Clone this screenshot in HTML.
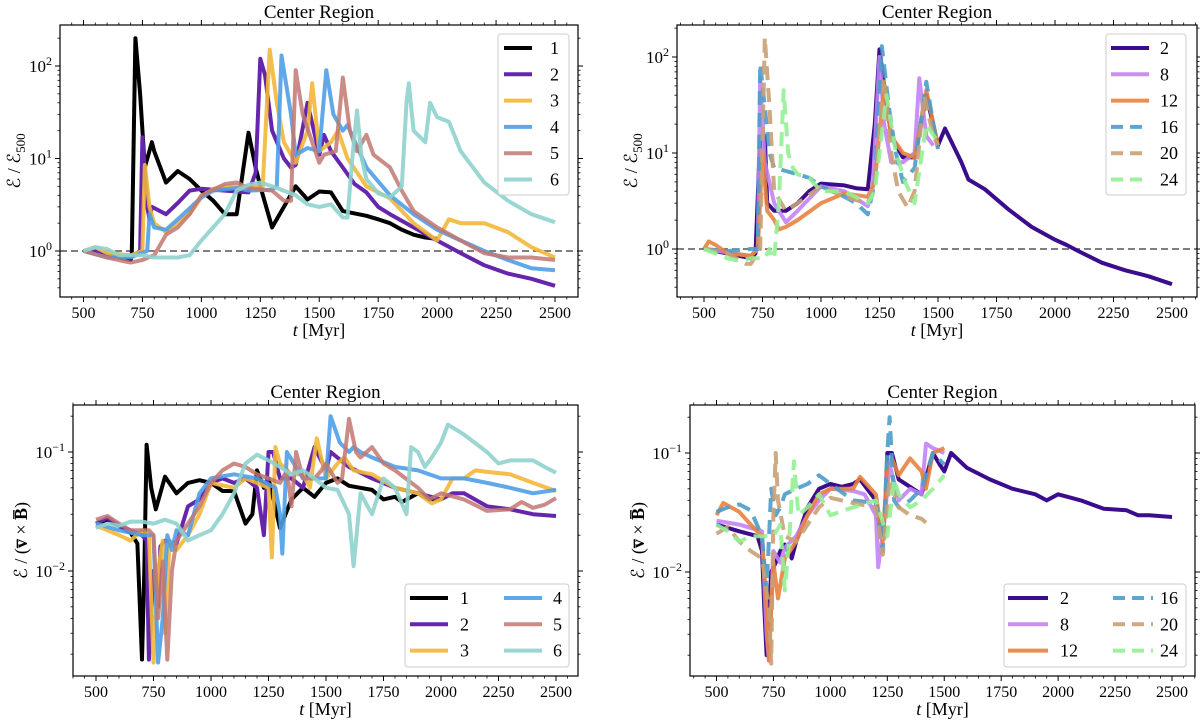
<!DOCTYPE html>
<html><head><meta charset="utf-8"><style>
html,body{margin:0;padding:0;background:#fff}
svg{display:block;font-family:"Liberation Serif",serif}
</style></head><body>
<svg id="fig" width="1200" height="726" viewBox="0 0 1200 726" xmlns="http://www.w3.org/2000/svg"></svg>
<script>
// ---------- DATA ----------
// Top-left (E/E500, runs 1-6)
const tl_t1=[500,550,600,650,700,705,720,740,760,790,800,850,900,950,1000,1050,1100,1150,1200,1230,1250,1300,1350,1400,1450,1500,1550,1600,1700,1750,1800,1850,1900,1950,2000];
const tl_v1=[1,1,0.9,0.85,0.8,0.95,200,50,8,15,12,5.5,7.3,6,4.5,3.5,2.5,2.5,19,8,5,1.8,3,5,3.6,4.4,4.3,2.7,2.4,2.2,2.0,1.7,1.5,1.4,1.35];
const tl_t2=[500,550,600,700,740,750,770,780,790,850,900,950,1000,1100,1200,1230,1250,1270,1300,1350,1380,1400,1450,1500,1520,1550,1600,1650,1700,1750,1800,1900,2000,2100,2200,2300,2400,2500];
const tl_v2=[1,1,0.9,0.85,1,17,3,2.2,3,2.5,3.3,4.5,4.7,4.5,4.3,7,120,80,20,10,8,8.5,40,11,18,12,8,5.3,4.3,3,2.5,1.8,1.3,0.95,0.7,0.57,0.5,0.42];
const tl_t3=[500,550,600,700,750,760,780,800,850,900,950,1000,1050,1100,1200,1260,1290,1320,1350,1400,1450,1470,1500,1550,1580,1620,1700,1800,1900,2000,2050,2100,2200,2300,2400,2500];
const tl_v3=[1,1.1,0.95,0.9,1,8.5,3,2,1.6,2,2.5,3.8,4.7,5,5,5,150,40,15,9,20,65,12,15,20,10,5,3.7,2,1.3,2.2,2,2,1.6,1.1,0.85];
const tl_t4=[500,600,700,770,780,800,850,900,1000,1050,1150,1200,1300,1320,1340,1380,1400,1450,1500,1530,1560,1600,1620,1700,1800,1900,2000,2100,2200,2300,2400,2500];
const tl_v4=[1,0.85,0.85,1,2.5,1.8,1.7,2.2,3.8,4.5,4.8,4.5,4.6,5,130,30,11,13,12,90,30,20,23,8,4,2.5,1.7,1.3,1,0.8,0.65,0.62];
const tl_t5=[500,600,700,750,800,850,900,950,1000,1100,1150,1200,1300,1350,1380,1400,1430,1470,1500,1520,1570,1600,1630,1660,1700,1730,1800,1850,1900,2000,2100,2200,2300,2400,2500];
const tl_v5=[1,0.85,0.75,0.8,0.9,1.5,1.8,2.5,4,5.3,5.5,4.8,4.5,3.5,3.5,90,30,15,9,11,12,75,20,12,18,11,8,4.5,2.7,1.8,1.3,0.95,0.85,0.85,0.8];
const tl_t6=[500,550,600,650,700,750,800,900,950,1000,1100,1150,1200,1250,1300,1400,1450,1500,1550,1600,1620,1640,1660,1680,1700,1750,1800,1850,1870,1880,1900,1950,1970,2000,2050,2100,2200,2300,2400,2500];
const tl_v6=[1,1.1,1.05,0.9,0.9,0.9,0.85,0.85,0.9,1.3,2.5,4.5,5.2,5.5,5,4,3.2,3,3.2,2.3,2.3,10,33,10,6,4.2,3.8,5,40,65,20,15,40,28,25,12,5.5,3.5,2.5,2.05];
// Top-right (E/E500, resolutions)
const tr_t2=[500,600,700,720,740,760,770,800,850,900,950,1000,1050,1100,1150,1200,1230,1250,1270,1300,1350,1400,1450,1500,1530,1600,1630,1700,1800,1900,2000,2050,2100,2200,2300,2400,2500];
const tr_v2=[1,0.9,0.8,0.9,15,15,3,2.5,2.5,3,4,4.8,4.7,4.6,4.3,4.2,20,120,50,15,9,9,40,12,18,8,5.3,4.2,2.6,1.7,1.25,1.1,0.95,0.72,0.6,0.52,0.43];
const tr_t8=[500,700,730,740,760,800,850,900,1000,1100,1200,1220,1250,1270,1300,1350,1400,1420,1450,1480];
const tr_v8=[1,0.85,1,60,8,3,1.9,2.5,4.5,4,2.8,4,100,20,8,8,10,60,15,12];
const tr_t12=[500,520,550,600,700,730,750,770,800,820,850,900,1000,1100,1200,1230,1270,1300,1350,1400,1450,1500];
const tr_v12=[1,1.2,1.1,0.9,0.85,1,10,2.5,2,1.6,1.7,2,3,3.8,3.5,5,50,15,10,9,45,12];
const tr_t16=[500,600,700,730,740,760,780,800,850,900,950,1000,1100,1150,1200,1230,1260,1290,1320,1350,1400,1450,1480,1500];
const tr_v16=[1,0.95,1,1,85,30,10,7,6.5,6,5.5,4.5,3.5,3,2.3,5,130,30,10,5,7,55,20,11];
const tr_t20=[500,600,680,700,740,760,780,800,850,900,1000,1100,1200,1230,1270,1300,1330,1370,1400,1440,1480,1500];
const tr_v20=[1,0.9,0.7,0.7,1,160,30,4,2.5,3,4.5,3.5,3,5,60,10,4,2.7,4,40,15,12];
const tr_t24=[500,600,650,700,760,780,790,800,820,840,860,880,900,950,1000,1100,1200,1230,1280,1320,1360,1400,1450,1500];
const tr_v24=[1,0.8,0.75,0.8,0.8,1,0.8,0.8,3,45,10,7,6,5.5,4,4,3,4,40,10,5,3,20,13];
// Bottom-left (E/(v x B), runs 1-6)
const bl_t1=[500,550,600,650,680,700,710,720,740,760,800,850,900,950,1000,1050,1100,1150,1180,1200,1230,1250,1300,1350,1400,1450,1500,1550,1600,1700,1750,1800,1830,1900,1950,2000];
const bl_v1=[0.025,0.027,0.024,0.021,0.017,0.0018,0.01,0.115,0.05,0.033,0.062,0.045,0.055,0.058,0.055,0.047,0.047,0.025,0.03,0.07,0.05,0.06,0.023,0.04,0.05,0.042,0.055,0.06,0.052,0.048,0.04,0.042,0.038,0.045,0.04,0.04];
const bl_t2=[500,550,600,650,700,720,730,750,770,780,800,850,900,950,1000,1050,1100,1150,1200,1230,1250,1270,1300,1350,1400,1450,1500,1520,1600,1700,1800,1900,2000,2050,2100,2200,2300,2400,2500];
const bl_v2=[0.025,0.028,0.024,0.022,0.02,0.018,0.0018,0.01,0.005,0.016,0.018,0.017,0.035,0.04,0.055,0.06,0.055,0.06,0.05,0.02,0.1,0.1,0.06,0.06,0.05,0.11,0.07,0.1,0.075,0.06,0.05,0.045,0.04,0.045,0.045,0.035,0.033,0.03,0.029];
const bl_t3=[500,550,600,650,700,730,750,770,790,800,820,850,900,950,1000,1100,1150,1200,1250,1265,1280,1300,1350,1400,1430,1460,1500,1550,1580,1620,1700,1800,1900,1960,2000,2050,2100,2150,2200,2300,2400,2500];
const bl_v3=[0.024,0.022,0.02,0.018,0.022,0.02,0.0017,0.01,0.018,0.003,0.018,0.015,0.02,0.03,0.055,0.05,0.06,0.055,0.05,0.013,0.11,0.08,0.065,0.065,0.05,0.13,0.06,0.08,0.09,0.07,0.065,0.05,0.045,0.037,0.04,0.06,0.06,0.07,0.068,0.065,0.055,0.047];
const bl_t4=[500,600,700,750,770,790,810,830,850,900,950,1000,1100,1200,1280,1300,1310,1330,1400,1450,1500,1520,1560,1600,1620,1650,1700,1800,1900,2000,2100,2200,2300,2400,2500];
const bl_v4=[0.025,0.022,0.02,0.02,0.0017,0.004,0.02,0.015,0.022,0.02,0.045,0.06,0.065,0.06,0.05,0.03,0.014,0.1,0.06,0.06,0.06,0.2,0.12,0.1,0.11,0.1,0.09,0.075,0.07,0.06,0.06,0.055,0.05,0.045,0.048];
const bl_t5=[500,550,600,650,700,730,750,770,790,810,830,850,900,950,1000,1050,1100,1150,1200,1250,1300,1330,1350,1370,1400,1450,1480,1500,1550,1570,1600,1630,1650,1700,1750,1800,1900,1950,2000,2100,2200,2300,2350,2400,2450,2500];
const bl_v5=[0.027,0.029,0.025,0.022,0.022,0.022,0.02,0.004,0.012,0.0018,0.01,0.018,0.025,0.035,0.055,0.07,0.08,0.075,0.065,0.06,0.055,0.07,0.035,0.1,0.06,0.06,0.07,0.08,0.055,0.06,0.19,0.1,0.09,0.11,0.08,0.07,0.05,0.04,0.045,0.04,0.032,0.033,0.038,0.034,0.036,0.041];
const bl_t6=[500,550,600,650,700,750,800,850,900,950,1000,1050,1100,1150,1200,1250,1300,1350,1400,1450,1500,1550,1600,1620,1650,1700,1750,1800,1850,1870,1900,1930,1960,2000,2030,2100,2200,2250,2300,2400,2450,2500];
const bl_v6=[0.023,0.025,0.024,0.026,0.026,0.025,0.027,0.025,0.018,0.02,0.022,0.03,0.045,0.08,0.095,0.085,0.075,0.065,0.07,0.06,0.05,0.048,0.03,0.011,0.045,0.03,0.06,0.05,0.03,0.11,0.1,0.075,0.09,0.12,0.17,0.14,0.1,0.08,0.085,0.085,0.075,0.067];
// Bottom-right (E/(v x B), resolutions)
const br_t2=[500,600,680,700,710,720,740,760,780,800,830,850,900,950,1000,1050,1100,1130,1200,1220,1240,1250,1270,1300,1400,1450,1480,1500,1530,1600,1700,1800,1900,1950,2000,2100,2200,2300,2350,2400,2500];
const br_v2=[0.025,0.022,0.02,0.015,0.005,0.002,0.01,0.012,0.015,0.017,0.013,0.018,0.035,0.05,0.055,0.052,0.055,0.06,0.04,0.02,0.03,0.1,0.1,0.06,0.045,0.1,0.08,0.07,0.1,0.075,0.06,0.05,0.045,0.04,0.045,0.04,0.034,0.033,0.03,0.03,0.029];
const br_t8=[500,600,700,720,730,750,780,800,850,900,950,1000,1100,1150,1200,1210,1240,1260,1300,1350,1400,1420,1450,1500];
const br_v8=[0.027,0.025,0.022,0.003,0.0018,0.015,0.012,0.016,0.02,0.03,0.04,0.05,0.048,0.045,0.03,0.011,0.03,0.08,0.04,0.05,0.045,0.12,0.11,0.1];
const br_t12=[500,530,600,650,700,720,730,750,770,800,850,900,950,1000,1100,1130,1200,1230,1250,1270,1300,1350,1400,1420,1450,1500];
const br_v12=[0.03,0.038,0.032,0.025,0.02,0.005,0.0018,0.012,0.006,0.013,0.018,0.03,0.045,0.05,0.05,0.063,0.045,0.018,0.08,0.09,0.065,0.09,0.07,0.05,0.1,0.11];
const br_t16=[500,550,600,650,700,720,740,760,780,800,850,900,950,1000,1100,1200,1230,1250,1260,1280,1300,1350,1400,1450,1500];
const br_v16=[0.032,0.035,0.037,0.033,0.02,0.007,0.05,0.03,0.035,0.045,0.05,0.055,0.065,0.055,0.04,0.038,0.015,0.1,0.2,0.04,0.035,0.04,0.05,0.1,0.08];
const br_t20=[500,550,600,650,700,730,740,750,760,770,800,850,900,950,1000,1100,1200,1230,1260,1300,1350,1400,1420];
const br_v20=[0.021,0.024,0.018,0.015,0.013,0.005,0.0017,0.03,0.1,0.04,0.02,0.018,0.025,0.035,0.042,0.038,0.035,0.014,0.06,0.035,0.03,0.028,0.026];
const br_t24=[500,550,600,650,700,750,780,800,820,840,860,900,950,1000,1100,1200,1250,1280,1300,1350,1400,1450,1500];
const br_v24=[0.025,0.022,0.018,0.02,0.02,0.02,0.025,0.007,0.02,0.085,0.03,0.035,0.045,0.03,0.035,0.04,0.02,0.06,0.045,0.035,0.04,0.05,0.065];

const xTicks=[500,750,1000,1250,1500,1750,2000,2250,2500];
const legL=["1","2","3","4","5","6"];
const legR=["2","8","12","16","20","24"];

// ---------- DRAWING ----------
const NS="http://www.w3.org/2000/svg";
const svg=document.getElementById('fig');
function mk(tag,attrs,parent){const e=document.createElementNS(NS,tag);for(const k in attrs)e.setAttribute(k,attrs[k]);(parent||svg).appendChild(e);return e;}

const colL=["#000000","#6526ad","#f2b737","#4f9ee8","#c27772","#8fd1cd"];
const colR=["#3b0c8c","#c283f5","#e8823e","#4d9ccb","#c9a074","#94f094"];
const dashR=[null,null,null,"14,8","14,8","14,8"];

// legend layout: [lineStartX, lineLen, textX] per column, row y0, row step
const panels=[
 {id:'top-left',L:60,R:578,T:25,B:297,x0:83.5,x1:555,ty0:2,py0:66,ty1:0,py1:251,dlo:-0.5,dhi:2.44,
  ts:[tl_t1,tl_t2,tl_t3,tl_t4,tl_t5,tl_t6],vs:[tl_v1,tl_v2,tl_v3,tl_v4,tl_v5,tl_v6],cols:colL,dash:[],leg:legL,op:[1,1,0.9,0.9,0.85,0.9],
  yt:[0,1,2],hline:true,ylab:'top',legBox:[498,34,71,161],legCols:[[504,28,550]],legY0:48,legDy:26.3},
 {id:'top-right',L:677,R:1197,T:25,B:297,x0:704,x1:1172,ty0:2,py0:57,ty1:0,py1:249,dlo:-0.5,dhi:2.33,
  ts:[tr_t2,tr_t8,tr_t12,tr_t16,tr_t20,tr_t24],vs:[tr_v2,tr_v8,tr_v12,tr_v16,tr_v20,tr_v24],cols:colR,dash:dashR,leg:legR,op:[1,0.9,0.9,0.9,0.9,0.9],
  yt:[0,1,2],hline:true,ylab:'top',legBox:[1106,34,80,161],legCols:[[1111,38,1160]],legY0:48,legDy:26.3},
 {id:'bottom-left',L:73,R:578,T:405,B:676,x0:96,x1:556,ty0:-1,py0:452,ty1:-2,py1:571,dlo:-2.88,dhi:-0.6,
  ts:[bl_t1,bl_t2,bl_t3,bl_t4,bl_t5,bl_t6],vs:[bl_v1,bl_v2,bl_v3,bl_v4,bl_v5,bl_v6],cols:colL,dash:[],leg:legL,op:[1,1,0.9,0.9,0.85,0.9],
  yt:[-2,-1],hline:false,ylab:'bot',legBox:[405,584,164,83],legCols:[[410,38,460],[504,38,553]],legY0:598,legDy:26.3},
 {id:'bottom-right',L:690,R:1195,T:405,B:676,x0:716.5,x1:1172,ty0:-1,py0:453,ty1:-2,py1:572,dlo:-2.88,dhi:-0.6,
  ts:[br_t2,br_t8,br_t12,br_t16,br_t20,br_t24],vs:[br_v2,br_v8,br_v12,br_v16,br_v20,br_v24],cols:colR,dash:dashR,leg:legR,op:[1,0.9,0.9,0.9,0.9,0.9],
  yt:[-2,-1],hline:false,ylab:'bot',legBox:[1004,584,182,83],legCols:[[1008,40,1060],[1113,40,1160]],legY0:598,legDy:26.3}
];

panels.forEach(p=>{
  const g=mk('g',{});
  
  
  const xs=t=>p.x0+(t-500)*(p.x1-p.x0)/2000;
  const ys=v=>p.py0+(Math.log10(v)-p.ty0)*(p.py1-p.py0)/(p.ty1-p.ty0);
  const clipId='clip-'+p.id;
  const cp=mk('clipPath',{id:clipId},g);mk('rect',{x:p.L,y:p.T,width:p.R-p.L,height:p.B-p.T},cp);
  const tt=mk('text',{x:(p.L+p.R)/2,y:p.T-7,'text-anchor':'middle','font-size':19},g);
  tt.textContent='Center Region';
  
  
  xTicks.forEach(t=>{
    const x=xs(t);
    mk('line',{x1:x,x2:x,y1:p.B,y2:p.B+5,stroke:'#000','stroke-width':1},g);
    mk('line',{x1:x,x2:x,y1:p.T,y2:p.T-5,stroke:'#000','stroke-width':1},g);
    const lb=mk('text',{x:x,y:p.B+21,'text-anchor':'middle','font-size':16},g);
    lb.textContent=t;
    
    
  });
  for(let t=400;t<=2600;t+=50){const x=xs(t);if(x<p.L||x>p.R||t%250===0)continue;
    mk('line',{x1:x,x2:x,y1:p.B,y2:p.B+2.5,stroke:'#000','stroke-width':0.8},g);
    mk('line',{x1:x,x2:x,y1:p.T,y2:p.T-2.5,stroke:'#000','stroke-width':0.8},g);}
  const xl=mk('text',{x:(p.L+p.R)/2,y:p.B+39,'text-anchor':'middle','font-size':18},g);
  xl.innerHTML='<tspan font-style="italic">t</tspan> [Myr]';
  
  
  for(let d=Math.floor(p.dlo);d<=Math.ceil(p.dhi);d++){
    for(let m=1;m<10;m++){const lv=d+Math.log10(m);if(lv<p.dlo||lv>p.dhi)continue;
      const y=ys(Math.pow(10,lv));const len=m===1?5:2.5;
      mk('line',{x1:p.L-len,x2:p.L,y1:y,y2:y,stroke:'#000','stroke-width':m===1?1:0.8},g);
      mk('line',{x1:p.R,x2:p.R+len,y1:y,y2:y,stroke:'#000','stroke-width':m===1?1:0.8},g);}
  }
  p.yt.forEach(d=>{
    const y=ys(Math.pow(10,d));
    const lb=mk('text',{x:p.L-8,y:y+6,'text-anchor':'end','font-size':17},g);
    lb.innerHTML='10<tspan dy="-7" font-size="12">'+(d<0?'\u2212'+(-d):d)+'</tspan>';
    
    
  });
  const yc=(p.T+p.B)/2, yx=p.L-(p.ylab==='top'?40:46);
  const yl=mk('text',{x:yx,y:yc,'text-anchor':'middle','font-size':18,transform:'rotate(-90 '+yx+' '+yc+')'},g);
  if(p.ylab==='top') yl.innerHTML='\u2130 / \u2130<tspan dy="5" font-size="13">500</tspan>';
  else yl.innerHTML='\u2130 / (<tspan font-weight="bold">v\u0305</tspan> \u00d7 <tspan font-weight="bold">B\u0305</tspan>)';
  
  
  if(p.hline){const y=ys(1);const hl=mk('line',{x1:p.L,x2:p.R,y1:y,y2:y,stroke:'#555','stroke-width':1.5,'stroke-dasharray':'7,4'},g);
    
    }
  const sg=mk('g',{'clip-path':'url(#'+clipId+')'},g);
  p.ts.forEach((ta,i)=>{
    const va=p.vs[i];
    const d=ta.map((t,k)=>(k?'L':'M')+xs(t).toFixed(1)+','+ys(va[k]).toFixed(1)).join('');
    const attrs={d:d,fill:'none',stroke:p.cols[i],'stroke-width':4,'stroke-linejoin':'round','stroke-opacity':p.op[i]};
    if(p.dash[i])attrs['stroke-dasharray']=p.dash[i];
    const path=mk('path',attrs,sg);
    
    
  });
  const fr=mk('rect',{x:p.L,y:p.T,width:p.R-p.L,height:p.B-p.T,fill:'none',stroke:'#000','stroke-width':1.2},g);
  
  
  const lb=p.legBox;
  const lg=mk('g',{},g);
  
  
  mk('rect',{x:lb[0],y:lb[1],width:lb[2],height:lb[3],rx:3,fill:'#fff','fill-opacity':0.85,stroke:'#ccc','stroke-width':1},lg);
  p.leg.forEach((name,i)=>{
    const nc=p.legCols.length, col=nc===1?0:Math.floor(i/3), row=nc===1?i:i%3;
    const c=p.legCols[col], cy=p.legY0+row*p.legDy;
    const e=mk('g',{},lg);
    
    
    const la={x1:c[0],x2:c[0]+c[1],y1:cy,y2:cy,stroke:p.cols[i],'stroke-width':4,'stroke-opacity':p.op[i]};
    if(p.dash[i])la['stroke-dasharray']='12,7';
    mk('line',la,e);
    const tx=mk('text',{x:c[2],y:cy+6,'font-size':18},e);
    tx.textContent=name;
  });
});
</script>
</body></html>
